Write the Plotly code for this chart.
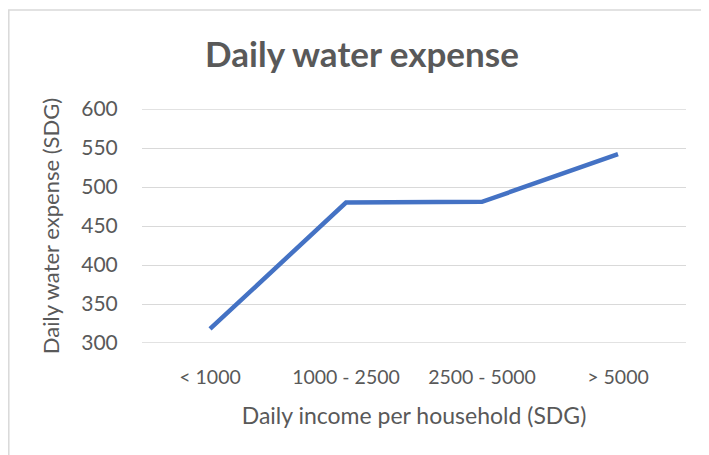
import plotly.graph_objects as go

categories = ["< 1000", "1000 - 2500", "2500 - 5000", "> 5000"]
expense = [318, 480, 481, 542]
y_ticks = [300, 350, 400, 450, 500, 550, 600]

W, H = 709, 455
# page has an 8px body margin, so figure coords = page coords - 8
L, R, T, B = 134, 678, 101, 335
grey = "#595959"
font = "Lato, 'Open Sans', sans-serif"

fig = go.Figure()
fig.add_trace(go.Scatter(x=categories, y=expense, mode="lines",
                         line=dict(color="#4472C4", width=4.5)))

pw, ph = R - L, B - T
def px_x(p):
    return (p - L) / pw
def px_y(p):
    return (B - p) / ph

fig.add_shape(type="rect", xref="paper", yref="paper",
              x0=px_x(0.8), x1=px_x(760), y0=px_y(500), y1=px_y(2),
              line=dict(color="#d9d9d9", width=1.5), fillcolor="rgba(0,0,0,0)", layer="below")

for v in (y_ticks[0], y_ticks[-1]):
    fig.add_shape(type="line", xref="paper", yref="y", x0=0, x1=1, y0=v, y1=v,
                  line=dict(color="#d9d9d9", width=1.3), layer="below")

fig.update_layout(
    width=W, height=H,
    margin=dict(l=L, r=W - R, t=T, b=H - B),
    paper_bgcolor="white", plot_bgcolor="white",
    showlegend=False,
    font=dict(family=font, color=grey, size=20),
    title=dict(text="<b>Daily water expense</b>", x=354 / W, xref="container", xanchor="center",
               y=1 - 47 / H, yref="container", yanchor="middle",
               font=dict(family=font, size=35, color=grey)),
    xaxis=dict(type="category", range=[-0.5, 3.5], showgrid=False, showline=False, zeroline=False,
               ticks="outside", ticklen=17, tickcolor="rgba(0,0,0,0)",
               tickfont=dict(size=19.5, color=grey),
               title=dict(text="Daily income per household (SDG)", standoff=20,
                          font=dict(size=23, color=grey))),
    yaxis=dict(range=[300, 600], tickvals=y_ticks, showgrid=True, gridcolor="#d9d9d9", gridwidth=1.3,
               showline=False, zeroline=False,
               ticks="outside", ticklen=19, tickcolor="rgba(0,0,0,0)",
               tickfont=dict(size=21, color=grey),
               title=dict(text="Daily water expense (SDG)", standoff=15,
                          font=dict(size=22, color=grey))),
)

fig.write_html("out.html")
